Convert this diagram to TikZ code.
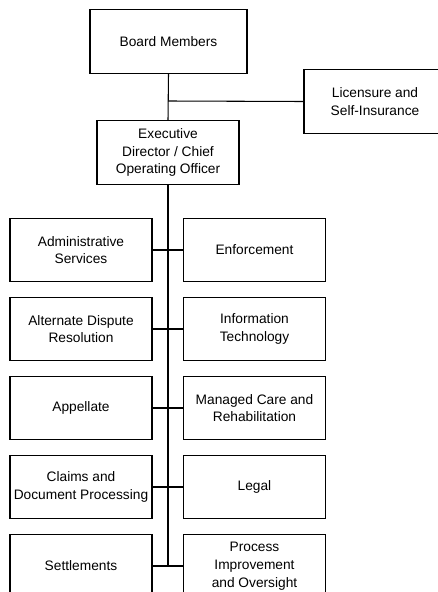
\documentclass[tikz,border=0pt]{standalone}
\usepackage{fontspec}
\setmainfont{Liberation Sans}
\usepackage{tikz}
\usetikzlibrary{positioning}

\begin{document}
\begin{tikzpicture}[x=0.75pt, y=-0.75pt,
    box/.style={draw, line width=0.8pt, align=center, inner sep=0pt,
        minimum width=106.5pt, minimum height=47.5pt,
        font=\fontsize{10.3}{13.3}\selectfont},
    link/.style={line width=0.8pt}]
    \useasboundingbox (0,0) rectangle (438,592);

    % Top of the chart
    \node[box, minimum width=117.75pt] (board) at (168.5,41.5) {Board Members};
    \node[box] (lic) at (375,101.5) {Licensure and\\Self-Insurance};
    \node[box] (exec) at (168,152.5) {Executive\\Director / Chief\\Operating Officer};

    % Left column
    \node[box] (adm) at (81,250) {Administrative\\Services};
    \node[box] (adr) at (81,329) {Alternate Dispute\\Resolution};
    \node[box] (app) at (81,408) {Appellate};
    \node[box] (cdp) at (81,487) {Claims and\\Document Processing};
    \node[box] (set) at (81,566) {Settlements};

    % Right column
    \node[box] (enf) at (254.5,250) {Enforcement};
    \node[box] (it) at (254.5,329) {Information\\Technology};
    \node[box] (mcr) at (254.5,408) {Managed Care and\\Rehabilitation};
    \node[box] (leg) at (254.5,487) {Legal};
    \node[box] (pio) at (254.5,566) {Process\\Improvement\\and Oversight};

    % Connectors
    \coordinate (j1) at (168,101);
    \coordinate (j2) at (168,566);
    \draw[link] (board.south) -- (exec.north);
    \draw[link] (j1) -- (lic.west);
    \draw[link] (exec.south) -- (j2);
    \draw[link] (adm) -- (enf);
    \draw[link] (adr) -- (it);
    \draw[link] (app) -- (mcr);
    \draw[link] (cdp) -- (leg);
    \draw[link] (set) -- (pio);
\end{tikzpicture}
\end{document}
